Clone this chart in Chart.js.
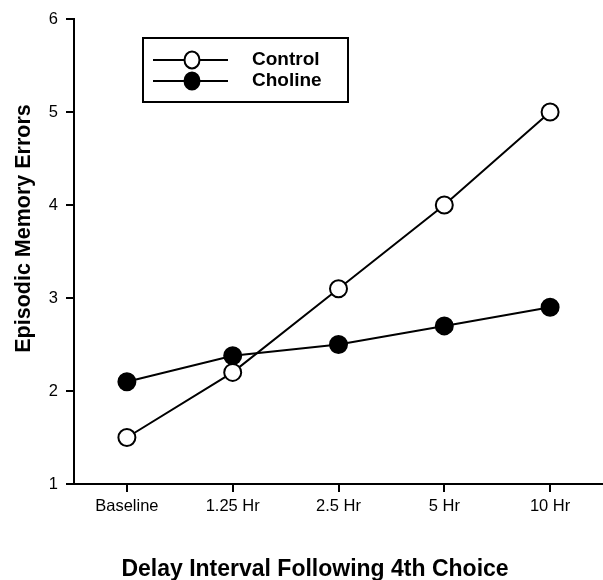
<!DOCTYPE html>
<html><head><meta charset="utf-8">
<script src="https://cdn.jsdelivr.net/npm/chart.js@4"></script>
<style>html,body{margin:0;padding:0;background:#fff}#wrap{width:603px;height:580px}</style>
</head><body><div id="wrap"><canvas id="c" width="603" height="580"></canvas></div>
<script>
const categories = ['Baseline', '1.25 Hr', '2.5 Hr', '5 Hr', '10 Hr'];
const controlValues = [1.5, 2.2, 3.1, 4.0, 5.0];
const cholineValues = [2.1, 2.38, 2.5, 2.7, 2.9];
const yTickMin = 1;
const yTickMax = 6;
const yTickStep = 1;
const seriesNames = ['Control', 'Choline'];
const yTitle = 'Episodic Memory Errors';
const xTitle = 'Delay Interval Following 4th Choice';

const FONT = '"Liberation Sans", Arial, Helvetica, sans-serif';

const titlesPlugin = {
  id: 'titles',
  afterDraw(chart) {
    const ctx = chart.ctx;
    ctx.save();
    ctx.fillStyle = '#000';
    ctx.font = 'bold 21.5px ' + FONT;
    ctx.textAlign = 'center';
    ctx.textBaseline = 'alphabetic';
    ctx.translate(30, 228.5);
    ctx.rotate(-Math.PI / 2);
    ctx.fillText(yTitle, 0, 0);
    ctx.restore();
    ctx.save();
    ctx.fillStyle = '#000';
    ctx.font = 'bold 23px ' + FONT;
    ctx.textAlign = 'center';
    ctx.textBaseline = 'alphabetic';
    ctx.fillText(xTitle, 315, 576);
    ctx.restore();
  }
};

const legendPlugin = {
  id: 'boxLegend',
  afterDraw(chart) {
    const ctx = chart.ctx;
    ctx.save();
    ctx.strokeStyle = '#000';
    ctx.lineWidth = 2;
    ctx.strokeRect(143, 38, 205, 64);
    const rows = [60, 81];
    chart.data.datasets.forEach((ds, i) => {
      const y = rows[i];
      ctx.beginPath();
      ctx.moveTo(153, y);
      ctx.lineTo(228, y);
      ctx.lineWidth = 2;
      ctx.strokeStyle = ds.borderColor;
      ctx.stroke();
      ctx.beginPath();
      ctx.ellipse(192, y, 7.5, 8.5, 0, 0, Math.PI * 2);
      ctx.fillStyle = ds.pointBackgroundColor;
      ctx.fill();
      ctx.lineWidth = 2;
      ctx.strokeStyle = ds.pointBorderColor;
      ctx.stroke();
      ctx.fillStyle = '#000';
      ctx.font = 'bold 19px ' + FONT;
      ctx.textAlign = 'left';
      ctx.textBaseline = 'middle';
      ctx.fillText(ds.label, 252, y);
    });
    ctx.restore();
  }
};

new Chart(document.getElementById('c'), {
  type: 'line',
  data: {
    labels: categories,
    datasets: [
      {
        label: seriesNames[0],
        data: controlValues,
        borderColor: '#000',
        borderWidth: 2,
        pointBackgroundColor: '#fff',
        pointBorderColor: '#000',
        pointBorderWidth: 2,
        pointRadius: 8.5,
        pointStyle: 'circle',
        fill: false,
        tension: 0
      },
      {
        label: seriesNames[1],
        data: cholineValues,
        borderColor: '#000',
        borderWidth: 2,
        pointBackgroundColor: '#000',
        pointBorderColor: '#000',
        pointBorderWidth: 2,
        pointRadius: 8.5,
        pointStyle: 'circle',
        fill: false,
        tension: 0
      }
    ]
  },
  options: {
    responsive: false,
    animation: false,
    devicePixelRatio: 1,
    layout: { autoPadding: false, padding: { top: 19, left: 0, right: -2, bottom: 0 } },
    plugins: { legend: { display: false }, tooltip: { enabled: false }, title: { display: false } },
    scales: {
      x: {
        type: 'category',
        offset: true,
        grid: { display: true, drawOnChartArea: false, drawTicks: true, tickLength: 8, color: '#000', lineWidth: 2 },
        border: { display: true, color: '#000', width: 2 },
        ticks: { color: '#000', font: { family: FONT, size: 16.5 }, padding: 5, maxRotation: 0 },
        afterFit(s) { s.height = 96; s.paddingLeft = 0; s.paddingRight = 0; }
      },
      y: {
        min: yTickMin,
        max: yTickMax,
        grid: { display: true, drawOnChartArea: false, drawTicks: true, tickLength: 8, color: '#000', lineWidth: 2 },
        border: { display: true, color: '#000', width: 2 },
        ticks: { stepSize: yTickStep, color: '#000', font: { family: FONT, size: 16.5 }, padding: 8 },
        afterFit(s) { s.width = 74; }
      }
    }
  },
  plugins: [titlesPlugin, legendPlugin]
});
</script>
</body></html>
